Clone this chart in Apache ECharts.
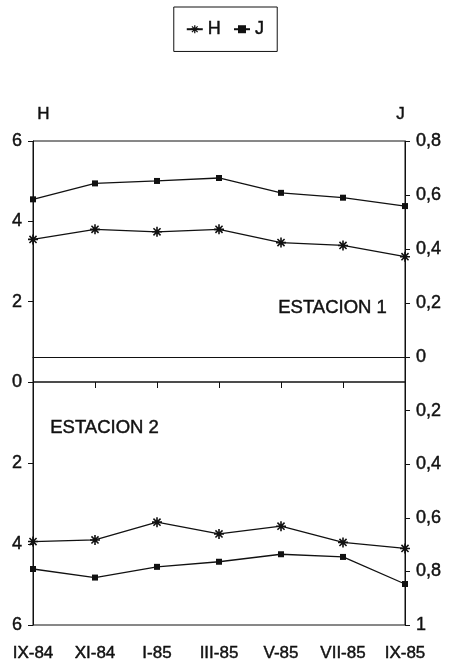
<!DOCTYPE html>
<html>
<head>
<meta charset="utf-8">
<style>
  html, body { margin: 0; padding: 0; background: #fff; }
  #chart { width: 450px; height: 666px; }
</style>
<script src="https://cdn.jsdelivr.net/npm/echarts@6/dist/echarts.min.js"></script>
</head>
<body>
<div id="chart"></div>
<script>
// Sampling months
const months = ['IX-84', 'XI-84', 'I-85', 'III-85', 'V-85', 'VII-85', 'IX-85'];

// Estación 1: diversity H (left axis) and evenness J (right axis)
const hEst1 = [3.55, 3.80, 3.74, 3.80, 3.47, 3.40, 3.12];
const jEst1 = [0.584, 0.643, 0.652, 0.663, 0.608, 0.590, 0.559];

// Estación 2: same indices, axes drawn downward
const hEst2 = [3.94, 3.90, 3.46, 3.75, 3.56, 3.96, 4.11];
const jEst2 = [0.791, 0.823, 0.783, 0.764, 0.736, 0.746, 0.847];

// Axis tick values
const hTicks = [0, 2, 4, 6];
const jTicks = [0, 0.2, 0.4, 0.6, 0.8, 1];

const INK = '#111';
const FONT = "'Liberation Sans', Arial, sans-serif";
// a slight outline gives the text a medium weight
const HEAVY = { textBorderColor: INK, textBorderWidth: 0.45 };
const ASTERISK = 'path://M0,4.2L10,4.2L10,5.8L0,5.8Z M4.2,0L5.8,0L5.8,10L4.2,10Z ' +
  'M0.9,2L2,0.9L9.1,8L8,9.1Z M8,0.9L9.1,2L2,9.1L0.9,8Z';

const fmtJ = v => {
  if (Math.abs(v) < 1e-9) return '0';
  if (Math.abs(v - 1) < 1e-9) return '1';
  return v.toFixed(1).replace('.', ',');
};

const chart = echarts.init(document.getElementById('chart'), null, { renderer: 'canvas' });

const L = 33, W = 372;
const grids = [
  { left: L, width: W, top: 141, height: 241, show: true, borderColor: INK, borderWidth: 1 },
  { left: L, width: W, top: 141, height: 216 },
  { left: L, width: W, top: 382, height: 243, show: true, borderColor: INK, borderWidth: 1 },
  { left: L, width: W, top: 357, height: 268 }
];

const baseX = (i) => ({
  type: 'category', gridIndex: i, data: months, boundaryGap: false,
  axisLine: { show: false }, axisTick: { show: false }, axisLabel: { show: false },
  splitLine: { show: false }
});

const xAxes = [baseX(0), baseX(1), baseX(2), baseX(3)];
// line at J = 0 in the upper panel
xAxes[1].axisLine = { show: true, onZero: false, lineStyle: { color: INK, width: 1 } };
// month labels under the lower panel
xAxes[2].axisTick = { show: true, length: 6, alignWithLabel: true, lineStyle: { color: INK } };
xAxes[2].axisLabel = Object.assign({ show: true, color: INK, fontSize: 17, fontFamily: FONT, margin: 20, interval: 0 }, HEAVY);

const yAxisBase = (grid, pos, min, max, interval, inverse, fmt) => ({
  type: 'value', gridIndex: grid, position: pos, min, max, interval, inverse,
  axisLine: { show: true, onZero: false, lineStyle: { color: INK, width: 1 } },
  axisTick: { show: true, length: 5, lineStyle: { color: INK } },
  axisLabel: Object.assign({ color: INK, fontSize: 18, fontFamily: FONT, margin: 11, formatter: fmt }, HEAVY),
  splitLine: { show: false }
});

const yAxes = [
  yAxisBase(0, 'left', hTicks[0], hTicks[3], 2, false, v => String(v)),
  yAxisBase(1, 'right', jTicks[0], jTicks[4], 0.2, false, fmtJ),
  yAxisBase(2, 'left', hTicks[0], hTicks[3], 2, true, v => (v === 0 ? '' : String(v))),
  yAxisBase(3, 'right', jTicks[0], jTicks[5], 0.2, true, v => (Math.abs(v) < 1e-9 ? '' : fmtJ(v)))
];

const lineSeries = (name, data, idx, symbol, size) => ({
  name, type: 'line', data, xAxisIndex: idx, yAxisIndex: idx,
  symbol, symbolSize: size, showSymbol: true, clip: false,
  lineStyle: { color: INK, width: 1.3 },
  itemStyle: { color: INK, borderWidth: 0 },
  emphasis: { disabled: true },
  animation: false
});

const textStyle = (text, size) => ({ text, fill: INK, font: `${size}px ${FONT}`, stroke: INK, lineWidth: 0.45 });

chart.setOption({
  backgroundColor: '#fff',
  animation: false,
  legend: {
    data: ['H', 'J'],
    left: 'center', top: 7,
    padding: [13, 13, 13, 12],
    borderColor: INK, borderWidth: 1,
    itemWidth: 16, itemHeight: 10, itemGap: 12,
    textStyle: Object.assign({ color: INK, fontSize: 18, fontFamily: FONT }, HEAVY)
  },
  grid: grids,
  xAxis: xAxes,
  yAxis: yAxes,
  series: [
    lineSeries('H', hEst1, 0, ASTERISK, 10),
    lineSeries('J', jEst1, 1, 'rect', 6),
    lineSeries('H', hEst2, 2, ASTERISK, 10),
    lineSeries('J', jEst2, 3, 'rect', 6)
  ],
  graphic: [
    { type: 'text', left: 37, top: 106, style: textStyle('H', 17) },
    { type: 'text', left: 396, top: 106, style: textStyle('J', 17) },
    { type: 'text', left: 278, top: 298, style: textStyle('ESTACION 1', 18.5) },
    { type: 'text', left: 50, top: 418, style: textStyle('ESTACION 2', 18.5) }
  ]
});
</script>
</body>
</html>
